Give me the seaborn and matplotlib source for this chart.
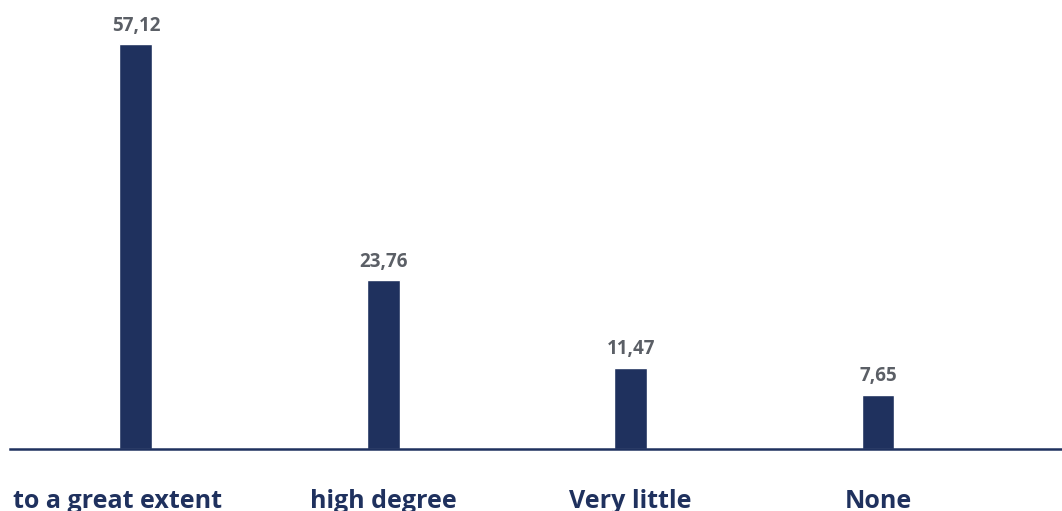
import matplotlib
matplotlib.use("Agg")
import matplotlib.pyplot as plt
import matplotlib.transforms as mtransforms
import seaborn as sns

categories = ["to a great extent", "high degree", "Very little", "None"]
values = [57.12, 23.76, 11.47, 7.65]

NAVY = "#1f315e"
GREY = "#5b5f66"

sns.set_theme(style="white")
plt.rcParams["font.family"] = ["Open Sans", "DejaVu Sans"]

fig = plt.figure(figsize=(10.62, 5.11), dpi=100)
ax = fig.add_axes([10 / 1062, 62 / 511, 1 - 10 / 1062, 0.8328])

sns.barplot(x=categories, y=values, color=NAVY, saturation=1, width=0.133, ax=ax)

ax.set_xlim(-0.509, 3.744)
ax.set_ylim(0, 60)

labels = [f"{v:.2f}".replace(".", ",") for v in values]
ax.bar_label(ax.containers[0], labels=labels, padding=6, color=GREY,
             fontsize=13.5, fontweight="bold")

for side in ["top", "right", "left"]:
    ax.spines[side].set_visible(False)
ax.spines["bottom"].set_color(NAVY)
ax.spines["bottom"].set_linewidth(1.8)

ax.set_yticks([])
ax.set_xlabel("")
ax.set_ylabel("")
ax.tick_params(axis="x", length=0, pad=29, labelsize=18, labelcolor=NAVY)
for lbl in ax.get_xticklabels():
    lbl.set_fontweight("bold")
first = ax.get_xticklabels()[0]
first.set_transform(first.get_transform() +
                    mtransforms.ScaledTranslation(-18 / 100, 0, fig.dpi_scale_trans))

fig.savefig("out.png", dpi=100)
